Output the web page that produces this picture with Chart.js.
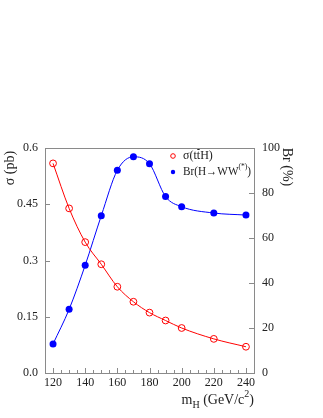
<!DOCTYPE html>
<html>
<head>
<meta charset="utf-8">
<script src="https://cdn.jsdelivr.net/npm/chart.js@4"></script>
<style>
  html, body { margin: 0; padding: 0; background: #fff; }
  canvas { display: block; }
</style>
</head>
<body>
<canvas id="chart" width="323" height="418"></canvas>
<script>
// Higgs mass points (GeV/c^2)
const masses = [120, 130, 140, 150, 160, 170, 180, 190, 200, 220, 240];
// sigma(ttH) in pb, left axis
const sigmaTTH = [0.559, 0.439, 0.349, 0.290, 0.230, 0.190, 0.161, 0.140, 0.120, 0.091, 0.070];
// Br(H->WW*) in %, right axis
const brWW = [12.9, 28.3, 47.9, 69.9, 90.1, 96.1, 93.0, 78.4, 73.9, 71.1, 70.2];

const xTicks = [120, 140, 160, 180, 200, 220, 240];
const sigmaTicks = [0.0, 0.15, 0.3, 0.45, 0.6];
const brTicks = [0, 20, 40, 60, 80, 100];

const serif = '"Liberation Serif", "DejaVu Serif", serif';
const textCol = '#222';
const axisCol = '#8a8a8a';

function pts(xs, ys) {
    return xs.map(function (x, i) { return {x: x, y: ys[i]}; });
}

// frame, inward ticks, titles and legend
const decor = {
    id: 'decor',
    afterDraw: function (chart) {
        const ctx = chart.ctx;
        const a = chart.chartArea;
        const sx = chart.scales.x, sl = chart.scales.yL, sr = chart.scales.yR;
        ctx.save();
        ctx.strokeStyle = axisCol;
        ctx.lineWidth = 1;
        ctx.strokeRect(Math.round(a.left) + 0.5, Math.round(a.top) + 0.5,
                       Math.round(a.right - a.left), Math.round(a.bottom - a.top));
        ctx.beginPath();
        for (let v = 120; v <= 240; v += 5) {
            const px = Math.round(sx.getPixelForValue(v)) + 0.5;
            const len = (v % 20 === 0) ? 5 : 3;
            ctx.moveTo(px, a.bottom);
            ctx.lineTo(px, a.bottom - len);
        }
        sigmaTicks.forEach(function (v) {
            const py = Math.round(sl.getPixelForValue(v)) + 0.5;
            ctx.moveTo(a.left, py);
            ctx.lineTo(a.left + 5, py);
        });
        brTicks.forEach(function (v) {
            const py = Math.round(sr.getPixelForValue(v)) + 0.5;
            ctx.moveTo(a.right, py);
            ctx.lineTo(a.right - 5, py);
        });
        ctx.stroke();

        ctx.fillStyle = textCol;
        ctx.textBaseline = 'middle';
        ctx.textAlign = 'center';
        ctx.font = '14px ' + serif;
        // left title
        ctx.save();
        ctx.translate(10, 168);
        ctx.rotate(-Math.PI / 2);
        ctx.fillText('\u03c3 (pb)', 0, 0);
        ctx.restore();
        // right title
        ctx.save();
        ctx.translate(287, 167);
        ctx.rotate(Math.PI / 2);
        ctx.fillText('Br (%)', 0, 0);
        ctx.restore();

        // x title: m_H (GeV/c^2), right aligned to plot edge
        ctx.textAlign = 'left';
        ctx.textBaseline = 'alphabetic';
        const big = '14px ' + serif, small = '10px ' + serif;
        ctx.font = big;
        const w1 = ctx.measureText('m').width;
        const w3 = ctx.measureText(' (GeV/c').width;
        const w5 = ctx.measureText(')').width;
        ctx.font = small;
        const w2 = ctx.measureText('H').width;
        const w4 = ctx.measureText('2').width;
        let x0 = a.right - (w1 + w2 + w3 + w4 + w5);
        const by = 404;
        ctx.font = big; ctx.fillText('m', x0, by); x0 += w1;
        ctx.font = small; ctx.fillText('H', x0, by + 4); x0 += w2;
        ctx.font = big; ctx.fillText(' (GeV/c', x0, by); x0 += w3;
        ctx.font = small; ctx.fillText('2', x0, by - 7); x0 += w4;
        ctx.font = big; ctx.fillText(')', x0, by);

        // legend
        const lx = 173, ty1 = 156, ty2 = 172, tx = 183;
        ctx.lineWidth = 1;
        ctx.strokeStyle = 'rgb(255,0,0)';
        ctx.beginPath();
        ctx.arc(lx, ty1, 2.3, 0, Math.PI * 2);
        ctx.stroke();
        ctx.fillStyle = 'rgb(0,0,255)';
        ctx.beginPath();
        ctx.arc(lx, ty2, 2.2, 0, Math.PI * 2);
        ctx.fill();

        ctx.fillStyle = textCol;
        ctx.textBaseline = 'middle';
        const lf = '12px ' + serif, sf = '8px ' + serif;
        ctx.font = lf;
        let cx = tx;
        ctx.fillText('\u03c3(t', cx, ty1);
        cx += ctx.measureText('\u03c3(t').width;
        const tw = ctx.measureText('t').width;
        ctx.fillText('t', cx, ty1);
        ctx.strokeStyle = textCol;
        ctx.beginPath();
        ctx.moveTo(cx + 0.5, ty1 - 6.5);
        ctx.lineTo(cx + tw - 0.5, ty1 - 6.5);
        ctx.stroke();
        cx += tw;
        ctx.fillText('H)', cx, ty1);

        // squeeze the second entry so it ends inside the frame like the original
        const parts = ['Br(H\u2192WW', '(*)', ')'];
        ctx.font = lf;
        const pw0 = ctx.measureText(parts[0]).width, pw2 = ctx.measureText(parts[2]).width;
        ctx.font = sf;
        const pw1 = ctx.measureText(parts[1]).width;
        const k = Math.min(1, 68 / (pw0 + pw1 + pw2));
        ctx.save();
        ctx.translate(tx, ty2);
        ctx.scale(k, 1);
        ctx.font = lf;
        ctx.fillText(parts[0], 0, 0);
        ctx.font = sf;
        ctx.fillText(parts[1], pw0, -5);
        ctx.font = lf;
        ctx.fillText(parts[2], pw0 + pw1, 0);
        ctx.restore();
        ctx.restore();
    }
};

new Chart(document.getElementById('chart'), {
    type: 'line',
    data: {
        datasets: [{
            data: pts(masses, sigmaTTH),
            yAxisID: 'yL',
            borderColor: 'rgb(255,0,0)',
            backgroundColor: 'rgba(255,255,255,0)',
            borderWidth: 1,
            pointRadius: 3.4,
            pointBorderWidth: 1,
            pointBorderColor: 'rgb(255,0,0)',
            pointBackgroundColor: 'rgba(255,255,255,0)',
            cubicInterpolationMode: 'monotone'
        }, {
            data: pts(masses, brWW),
            yAxisID: 'yR',
            borderColor: 'rgb(0,0,255)',
            backgroundColor: 'rgb(0,0,255)',
            borderWidth: 1,
            pointRadius: 3.5,
            pointBorderWidth: 0,
            pointBackgroundColor: 'rgb(0,0,255)',
            cubicInterpolationMode: 'monotone'
        }]
    },
    options: {
        responsive: false,
        animation: false,
        layout: { padding: { top: 148, left: 0, right: 0, bottom: 0 } },
        plugins: { legend: { display: false }, tooltip: { enabled: false } },
        scales: {
            x: {
                type: 'linear',
                min: 115,
                max: 245,
                afterBuildTicks: function (s) { s.ticks = xTicks.map(function (v) { return {value: v}; }); },
                afterFit: function (s) { s.height = 45; },
                grid: { display: false, drawTicks: false, tickLength: 0 },
                border: { display: false },
                ticks: { padding: 3, maxRotation: 0, autoSkip: false, color: textCol, font: { family: serif, size: 12 } }
            },
            yL: {
                position: 'left',
                min: 0,
                max: 0.6,
                afterBuildTicks: function (s) { s.ticks = sigmaTicks.map(function (v) { return {value: v}; }); },
                afterFit: function (s) { s.width = 45; },
                grid: { display: false, drawTicks: false, tickLength: 0 },
                border: { display: false },
                ticks: {
                    padding: 7, color: textCol, font: { family: serif, size: 12 },
                    callback: function (v) { return v === 0 ? '0.0' : String(v); }
                }
            },
            yR: {
                position: 'right',
                min: 0,
                max: 100,
                afterBuildTicks: function (s) { s.ticks = brTicks.map(function (v) { return {value: v}; }); },
                afterFit: function (s) { s.width = 69; },
                grid: { display: false, drawTicks: false, tickLength: 0 },
                border: { display: false },
                ticks: { padding: 8, color: textCol, font: { family: serif, size: 12 } }
            }
        }
    },
    plugins: [decor]
});
</script>
</body>
</html>
